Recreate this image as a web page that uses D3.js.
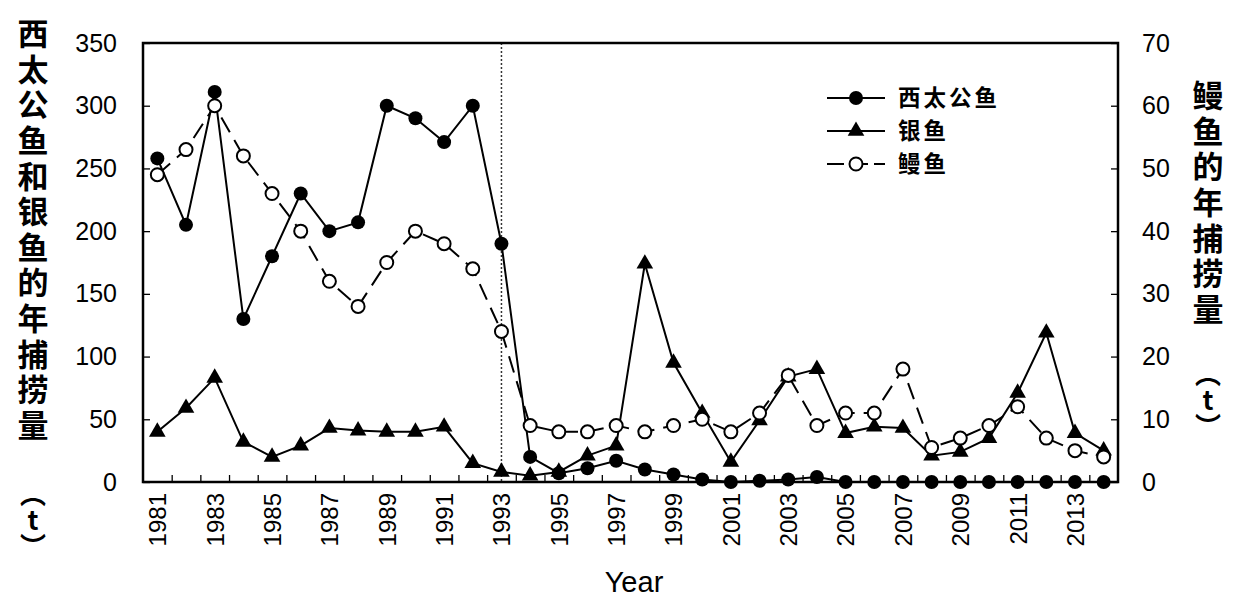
<!DOCTYPE html>
<html>
<head>
<meta charset="utf-8">
<script src="https://cdn.jsdelivr.net/npm/d3@7"></script>
<style>
    body { margin: 0; background: #fff; }
    svg { display: block; }
</style>
</head>
<body>
<script>
// years on the x axis
var years = [1981, 1982, 1983, 1984, 1985, 1986, 1987, 1988, 1989, 1990,
    1991, 1992, 1993, 1994, 1995, 1996, 1997, 1998, 1999, 2000,
    2001, 2002, 2003, 2004, 2005, 2006, 2007, 2008, 2009, 2010,
    2011, 2012, 2013, 2014];

// 西太公鱼 catch (left axis, t)
var smelt = [258, 205, 311, 130, 180, 230, 200, 207, 300, 290,
    271, 300, 190, 20, 7, 11, 17, 10, 6, 2,
    0, 1, 2, 4, 0, 0, 0, 0, 0, 0,
    0, 0, 0, 0];

// 银鱼 catch (left axis, t)
var icefish = [40, 59, 83, 32, 20, 29, 43, 41, 40, 40,
    44, 15, 8, 5, 8, 21, 29, 174, 95, 55,
    16, 49, 84, 90, 39, 44, 43, 21, 24, 35,
    71, 119, 39, 25];

// 鳗鱼 catch (right axis, t)
var eel = [49, 53, 60, 52, 46, 40, 32, 28, 35, 40,
    38, 34, 24, 9, 8, 8, 9, 8, 9, 10,
    8, 11, 17, 9, 11, 11, 18, 5.5, 7, 9,
    12, 7, 5, 4];

var leftTicks = [0, 50, 100, 150, 200, 250, 300, 350];
var rightTicks = [0, 10, 20, 30, 40, 50, 60, 70];
var labelYears = [1981, 1983, 1985, 1987, 1989, 1991, 1993, 1995, 1997,
    1999, 2001, 2003, 2005, 2007, 2009, 2011, 2013];
var markYear = 1993;

var seriesNames = ["西太公鱼", "银鱼", "鳗鱼"];
var leftTitle = "西太公鱼和银鱼的年捕捞量";
var rightTitle = "鳗鱼的年捕捞量";
var unitText = "︵t︶";

var margin = {top: 43, right: 124, bottom: 128, left: 143},
    width = 1242 - margin.left - margin.right,
    height = 610 - margin.top - margin.bottom;

var numFont = "'Liberation Sans', Arial, sans-serif";
var cjkFont = "'Noto Sans CJK SC', 'Noto Sans', sans-serif";

var svg = d3.select("body").append("svg")
    .attr("width", 1242)
    .attr("height", 610);

var g = svg.append("g")
    .attr("transform", "translate(" + margin.left + "," + margin.top + ")");

// x as a continuous scale so the year points sit in the middle of each slot
var xScale = d3.scaleLinear()
    .domain([years[0] - 0.5, years[years.length - 1] + 0.5])
    .range([0, width]);
var yLeft = d3.scaleLinear().domain([0, 350]).range([height, 0]);
var yRight = d3.scaleLinear().domain([0, 70]).range([height, 0]);

// small inward ticks between years
var boundaries = years.slice(0, -1).map(function(d) { return d + 0.5; });
g.append("g")
    .attr("transform", "translate(0," + height + ")")
    .call(d3.axisBottom(xScale).tickValues(boundaries)
        .tickSize(-7).tickFormat(""))
    .call(function(s) {
        s.select(".domain").remove();
        s.selectAll("line").attr("stroke", "#000").attr("stroke-width", 1.3);
    });

// rotated year labels
g.append("g")
    .attr("transform", "translate(0," + height + ")")
    .call(d3.axisBottom(xScale).tickValues(labelYears)
        .tickSize(0).tickFormat(d3.format("d")))
    .call(function(s) {
        s.select(".domain").remove();
        s.selectAll("text")
            .attr("font-family", numFont)
            .attr("font-size", "24px")
            .attr("fill", "#000")
            .attr("text-anchor", "end")
            .attr("transform", "translate(0,11) rotate(-90)")
            .attr("x", 0)
            .attr("y", 0)
            .attr("dy", "0.35em");
    });

// left axis
g.append("g")
    .call(d3.axisLeft(yLeft).tickValues(leftTicks)
        .tickSize(-7).tickPadding(26))
    .call(function(s) {
        s.select(".domain").remove();
        s.selectAll("line").attr("stroke", "#000").attr("stroke-width", 1.3);
        s.selectAll("text")
            .attr("font-family", numFont)
            .attr("font-size", "25px")
            .attr("fill", "#000");
    });

// right axis
g.append("g")
    .attr("transform", "translate(" + width + ",0)")
    .call(d3.axisRight(yRight).tickValues(rightTicks)
        .tickSize(-7).tickPadding(24))
    .call(function(s) {
        s.select(".domain").remove();
        s.selectAll("line").attr("stroke", "#000").attr("stroke-width", 1.3);
        s.selectAll("text")
            .attr("font-family", numFont)
            .attr("font-size", "25px")
            .attr("fill", "#000");
    });

// dotted marker line at 1993
g.append("line")
    .attr("x1", xScale(markYear)).attr("x2", xScale(markYear))
    .attr("y1", 0).attr("y2", height)
    .attr("stroke", "#333")
    .attr("stroke-width", 1.5)
    .attr("stroke-dasharray", "2,2");

var lineLeft = d3.line()
    .x(function(d, i) { return xScale(years[i]); })
    .y(function(d) { return yLeft(d); });
var lineRight = d3.line()
    .x(function(d, i) { return xScale(years[i]); })
    .y(function(d) { return yRight(d); });

var triangle = d3.symbol().type(d3.symbolTriangle).size(120);

// 西太公鱼
g.append("path").datum(smelt)
    .attr("d", lineLeft)
    .attr("fill", "none").attr("stroke", "#000").attr("stroke-width", 2);
g.selectAll(".smelt").data(smelt).enter().append("circle")
    .attr("class", "smelt")
    .attr("cx", function(d, i) { return xScale(years[i]); })
    .attr("cy", function(d) { return yLeft(d); })
    .attr("r", 7)
    .attr("fill", "#000");

// 银鱼
g.append("path").datum(icefish)
    .attr("d", lineLeft)
    .attr("fill", "none").attr("stroke", "#000").attr("stroke-width", 2);
g.selectAll(".icefish").data(icefish).enter().append("path")
    .attr("class", "icefish")
    .attr("d", triangle)
    .attr("transform", function(d, i) {
        return "translate(" + xScale(years[i]) + "," + yLeft(d) + ")";
    })
    .attr("fill", "#000");

// 鳗鱼
g.append("path").datum(eel)
    .attr("d", lineRight)
    .attr("fill", "none").attr("stroke", "#000").attr("stroke-width", 2)
    .attr("stroke-dasharray", "17,9");
g.selectAll(".eel").data(eel).enter().append("circle")
    .attr("class", "eel")
    .attr("cx", function(d, i) { return xScale(years[i]); })
    .attr("cy", function(d) { return yRight(d); })
    .attr("r", 6.5)
    .attr("fill", "#fff")
    .attr("stroke", "#000")
    .attr("stroke-width", 2);

// plot frame
g.append("rect")
    .attr("width", width).attr("height", height)
    .attr("fill", "none").attr("stroke", "#000").attr("stroke-width", 2.5);

// legend
var legend = svg.append("g").attr("transform", "translate(827,98)");
var legendRows = legend.selectAll("g").data(seriesNames).enter().append("g")
    .attr("transform", function(d, i) { return "translate(0," + (i * 33) + ")"; });
legendRows.append("line")
    .attr("x1", 0).attr("x2", 58).attr("y1", 0).attr("y2", 0)
    .attr("stroke", "#000").attr("stroke-width", 2)
    .attr("stroke-dasharray", function(d, i) { return i === 2 ? "17,6,6,6,6,6" : null; });
legendRows.each(function(d, i) {
    var row = d3.select(this);
    if (i === 0) {
        row.append("circle").attr("cx", 29).attr("r", 7).attr("fill", "#000");
    } else if (i === 1) {
        row.append("path").attr("d", triangle)
            .attr("transform", "translate(29,0)").attr("fill", "#000");
    } else {
        row.append("circle").attr("cx", 29).attr("r", 6.5)
            .attr("fill", "#fff").attr("stroke", "#000").attr("stroke-width", 2);
    }
});
legendRows.append("text")
    .attr("x", 71)
    .attr("dy", "0.36em")
    .attr("font-family", cjkFont)
    .attr("font-weight", "bold")
    .attr("font-size", "22.5px")
    .style("letter-spacing", "3px")
    .text(function(d) { return d; });

// vertical titles, written top to bottom
function verticalText(str, x, yTop, size, spacing) {
    svg.append("text")
        .attr("x", x)
        .attr("y", yTop)
        .attr("font-family", cjkFont)
        .attr("font-weight", "bold")
        .attr("font-size", size + "px")
        .style("writing-mode", "vertical-rl")
        .style("text-orientation", "upright")
        .style("letter-spacing", spacing + "px")
        .text(str);
}
verticalText(leftTitle, 33, 18, 31, 4.6);
verticalText(unitText, 33, 481, 26, 0);
verticalText(rightTitle, 1208, 80, 31, 4.6);
verticalText(unitText, 1208, 361, 26, 0);

// x axis title
svg.append("text")
    .attr("x", 634)
    .attr("y", 592)
    .attr("text-anchor", "middle")
    .attr("font-family", numFont)
    .attr("font-size", "29px")
    .text("Year");
</script>
</body>
</html>
